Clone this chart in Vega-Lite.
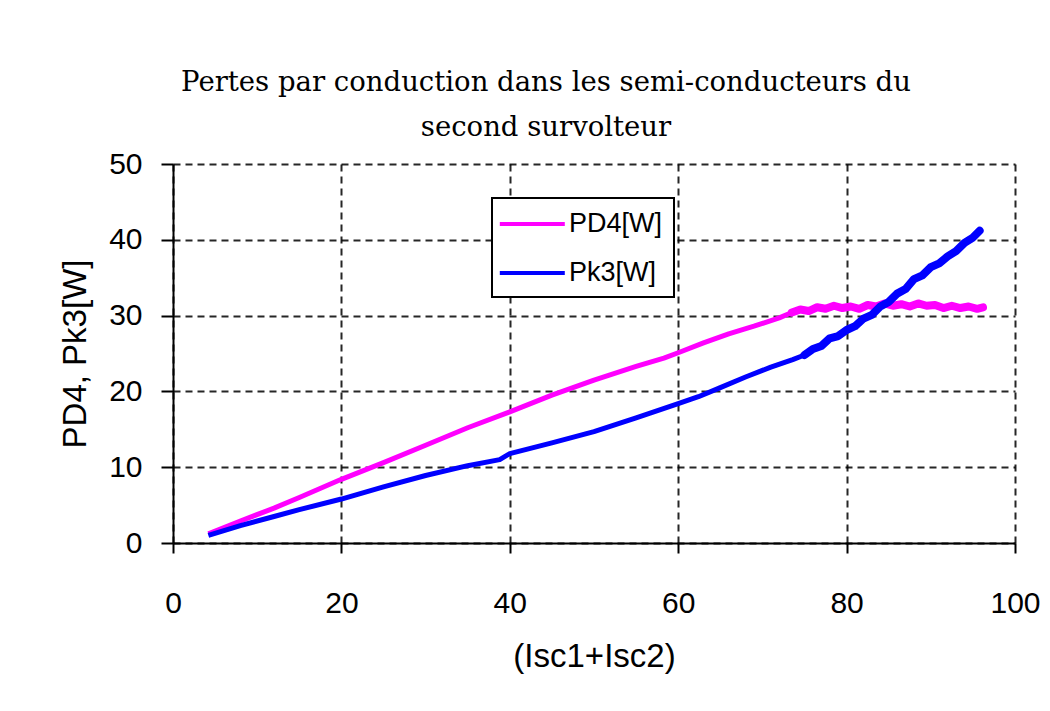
{
  "$schema": "https://vega.github.io/schema/vega-lite/v6.json",
  "autosize": {"type": "none"},
  "width": 842,
  "height": 379,
  "padding": {"left": 173, "top": 164, "right": 35, "bottom": 168},
  "background": "white",
  "title": {
    "text": ["Pertes par conduction dans les semi-conducteurs du", "second survolteur"],
    "font": "DejaVu Serif",
    "fontSize": 27.5,
    "fontWeight": "normal",
    "color": "black",
    "lineHeight": 45,
    "anchor": "middle",
    "dx": -48,
    "offset": 8
  },
  "data": {
    "values": [
      {"s": "PD4[W]", "x": 4.2, "y": 1.2},
      {"s": "PD4[W]", "x": 8, "y": 2.9},
      {"s": "PD4[W]", "x": 12, "y": 4.6},
      {"s": "PD4[W]", "x": 15, "y": 6.0},
      {"s": "PD4[W]", "x": 20, "y": 8.4},
      {"s": "PD4[W]", "x": 25, "y": 10.6},
      {"s": "PD4[W]", "x": 30, "y": 12.9},
      {"s": "PD4[W]", "x": 35, "y": 15.2},
      {"s": "PD4[W]", "x": 40, "y": 17.3},
      {"s": "PD4[W]", "x": 45, "y": 19.5},
      {"s": "PD4[W]", "x": 50, "y": 21.5},
      {"s": "PD4[W]", "x": 55, "y": 23.3},
      {"s": "PD4[W]", "x": 58.3, "y": 24.4},
      {"s": "PD4[W]", "x": 60, "y": 25.1},
      {"s": "PD4[W]", "x": 63, "y": 26.4},
      {"s": "PD4[W]", "x": 66, "y": 27.6},
      {"s": "PD4[W]", "x": 69, "y": 28.6},
      {"s": "PD4[W]", "x": 72, "y": 29.7},
      {"s": "PD4[W]", "x": 73.5, "y": 30.4},
      {"s": "PD4[W]", "x": 74.5, "y": 30.8},
      {"s": "PD4[W]", "x": 75.5, "y": 30.6},
      {"s": "PD4[W]", "x": 76.5, "y": 31.1},
      {"s": "PD4[W]", "x": 77.5, "y": 30.9},
      {"s": "PD4[W]", "x": 78.5, "y": 31.3},
      {"s": "PD4[W]", "x": 79.5, "y": 31.0},
      {"s": "PD4[W]", "x": 80.5, "y": 31.2},
      {"s": "PD4[W]", "x": 81.5, "y": 30.9},
      {"s": "PD4[W]", "x": 82.5, "y": 31.4},
      {"s": "PD4[W]", "x": 83.5, "y": 31.2},
      {"s": "PD4[W]", "x": 84.5, "y": 31.6},
      {"s": "PD4[W]", "x": 85.5, "y": 31.3},
      {"s": "PD4[W]", "x": 86.5, "y": 31.5},
      {"s": "PD4[W]", "x": 87.5, "y": 31.2},
      {"s": "PD4[W]", "x": 88.5, "y": 31.6},
      {"s": "PD4[W]", "x": 89.5, "y": 31.3},
      {"s": "PD4[W]", "x": 90.5, "y": 31.4},
      {"s": "PD4[W]", "x": 91.5, "y": 31.0},
      {"s": "PD4[W]", "x": 92.5, "y": 31.3},
      {"s": "PD4[W]", "x": 93.5, "y": 31.0},
      {"s": "PD4[W]", "x": 94.5, "y": 31.2},
      {"s": "PD4[W]", "x": 95.5, "y": 30.9},
      {"s": "PD4[W]", "x": 96.2, "y": 31.1},
      {"s": "Pk3[W]", "x": 4.2, "y": 1.0},
      {"s": "Pk3[W]", "x": 8, "y": 2.3},
      {"s": "Pk3[W]", "x": 12, "y": 3.5},
      {"s": "Pk3[W]", "x": 15, "y": 4.4},
      {"s": "Pk3[W]", "x": 20, "y": 5.8},
      {"s": "Pk3[W]", "x": 25, "y": 7.4},
      {"s": "Pk3[W]", "x": 30, "y": 8.9},
      {"s": "Pk3[W]", "x": 35, "y": 10.2},
      {"s": "Pk3[W]", "x": 38.8, "y": 11.0},
      {"s": "Pk3[W]", "x": 40, "y": 11.8},
      {"s": "Pk3[W]", "x": 45, "y": 13.2},
      {"s": "Pk3[W]", "x": 50, "y": 14.7},
      {"s": "Pk3[W]", "x": 55, "y": 16.5},
      {"s": "Pk3[W]", "x": 60, "y": 18.4},
      {"s": "Pk3[W]", "x": 62.4, "y": 19.3},
      {"s": "Pk3[W]", "x": 65, "y": 20.5},
      {"s": "Pk3[W]", "x": 68, "y": 21.9},
      {"s": "Pk3[W]", "x": 71, "y": 23.2},
      {"s": "Pk3[W]", "x": 73.6, "y": 24.2},
      {"s": "Pk3[W]", "x": 75, "y": 24.8},
      {"s": "Pk3[W]", "x": 76, "y": 25.6},
      {"s": "Pk3[W]", "x": 77, "y": 26.0},
      {"s": "Pk3[W]", "x": 78, "y": 27.0},
      {"s": "Pk3[W]", "x": 79, "y": 27.3},
      {"s": "Pk3[W]", "x": 80, "y": 28.1},
      {"s": "Pk3[W]", "x": 81, "y": 28.6},
      {"s": "Pk3[W]", "x": 82, "y": 29.6},
      {"s": "Pk3[W]", "x": 83, "y": 30.1},
      {"s": "Pk3[W]", "x": 84, "y": 31.2},
      {"s": "Pk3[W]", "x": 85, "y": 31.8},
      {"s": "Pk3[W]", "x": 86, "y": 32.9},
      {"s": "Pk3[W]", "x": 87, "y": 33.5},
      {"s": "Pk3[W]", "x": 88, "y": 34.8},
      {"s": "Pk3[W]", "x": 89, "y": 35.3},
      {"s": "Pk3[W]", "x": 90, "y": 36.4},
      {"s": "Pk3[W]", "x": 91, "y": 36.9},
      {"s": "Pk3[W]", "x": 92, "y": 37.8},
      {"s": "Pk3[W]", "x": 93, "y": 38.5},
      {"s": "Pk3[W]", "x": 94, "y": 39.6},
      {"s": "Pk3[W]", "x": 95, "y": 40.3},
      {"s": "Pk3[W]", "x": 95.8, "y": 41.2}
    ]
  },
  "encoding": {
    "x": {
      "field": "x", "type": "quantitative",
      "scale": {"domain": [0, 100], "nice": false, "zero": false},
      "axis": {"values": [0, 20, 40, 60, 80, 100], "title": "(Isc1+Isc2)", "labelPadding": 35, "titlePadding": 22, "labelFlush": false}
    },
    "y": {
      "field": "y", "type": "quantitative",
      "scale": {"domain": [0, 50], "nice": false},
      "axis": {"values": [0, 10, 20, 30, 40, 50], "title": "PD4, Pk3[W]", "labelPadding": 19, "titlePadding": 16, "tickSize": 12, "labelFlush": false}
    },
    "color": {
      "field": "s", "type": "nominal",
      "scale": {"domain": ["PD4[W]", "Pk3[W]"], "range": ["#FF00FF", "#0000FF"]},
      "legend": {
        "title": null,
        "orient": "none",
        "legendX": 319,
        "legendY": 34,
        "symbolType": "M-1.4,0H3.6",
        "symbolSize": 676,
        "symbolStrokeWidth": 4,
        "labelFont": "Liberation Sans",
        "labelFontSize": 27,
        "labelColor": "black",
        "labelOffset": 36,
        "rowPadding": 21,
        "padding": 11,
        "strokeColor": "black",
        "fillColor": "white"
      }
    }
  },
  "layer": [
    {"mark": {"type": "line", "strokeWidth": 5, "strokeJoin": "round"}},
    {
      "transform": [{"filter": "(datum.s == 'PD4[W]' && datum.x >= 73.5) || (datum.s == 'Pk3[W]' && datum.x >= 75)"}],
      "mark": {"type": "line", "strokeWidth": 8, "strokeJoin": "round", "strokeCap": "round"}
    }
  ],
  "config": {
    "view": {"stroke": null},
    "font": "Liberation Sans",
    "legend": {"strokeWidth": 2},
    "axis": {
      "labelFont": "Liberation Sans",
      "labelFontSize": 30,
      "labelColor": "black",
      "titleFont": "Liberation Sans",
      "titleFontSize": 33,
      "titleFontWeight": "normal",
      "titleColor": "black",
      "domainColor": "black",
      "domainWidth": 2,
      "tickColor": "black",
      "tickWidth": 2,
      "tickSize": 10,
      "grid": true,
      "gridColor": "black",
      "gridWidth": 2,
      "gridDash": [7, 5],
      "gridOpacity": 0.85
    }
  }
}
